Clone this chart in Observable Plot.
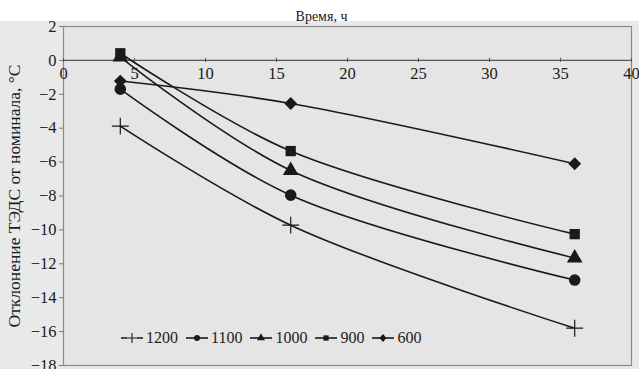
<!DOCTYPE html>
<html>
<head>
<meta charset="utf-8">
<script src="https://cdn.jsdelivr.net/npm/d3@7"></script>
<script src="https://cdn.jsdelivr.net/npm/@observablehq/plot@0.6"></script>
<style>
  html, body { margin: 0; padding: 0; background: #fff; }
  #wrap { position: relative; width: 639px; height: 369px; overflow: hidden; }
  #legend { position: absolute; left: 120px; top: 329px; display: flex; align-items: center;
            font-family: "Liberation Serif", "DejaVu Serif", serif; font-size: 16px; color: #222; }
  #legend .item { display: flex; align-items: center; margin-right: 7px; }
  #legend svg { margin-right: 2px; }
</style>
</head>
<body>
<div id="wrap"><div id="legend"></div></div>
<script>
// Data
const hours = [4, 16, 36];
const seriesNames = ["1200", "1100", "1000", "900", "600"];
const s1200 = [-3.88, -9.72, -15.8];
const s1100 = [-1.7, -7.95, -12.96];
const s1000 = [0.2, -6.49, -11.66];
const s900 = [0.42, -5.35, -10.25];
const s600 = [-1.22, -2.54, -6.1];
const seriesSymbols = ["plus", "circle", "triangle", "square", "diamond2"];
const xTicks = [0, 5, 10, 15, 20, 25, 30, 35, 40];
const yTicks = [2, 0, -2, -4, -6, -8, -10, -12, -14, -16, -18];
const xLabel = "Время, ч";
const yLabel = "Отклонение ТЭДС от номинала, °С";

const values = [s1200, s1100, s1000, s900, s600];
const data = [];
seriesNames.forEach((name, i) => {
  hours.forEach((h, j) => data.push({series: name, symbol: seriesSymbols[i], hour: h, value: values[i][j]}));
});
const fmt = d => d < 0 ? "\u2212" + (-d) : String(d);
const ink = "#1a1a1a";
const serif = "'Liberation Serif', 'DejaVu Serif', serif";

const chart = Plot.plot({
  width: 639,
  height: 369,
  marginTop: 26,
  marginLeft: 63,
  marginRight: 8,
  marginBottom: 4,
  style: {fontFamily: serif, fontSize: "16px", color: ink, background: "linear-gradient(#fff 0 21px, #e9e9e9 21px)", overflow: "visible"},
  x: {domain: [0, 40], axis: null},
  y: {domain: [-18, 2], axis: null},
  symbol: {domain: seriesNames, range: seriesSymbols},
  marks: [
    Plot.frame({fill: "#e5e5e5", stroke: "#8a8a8a", strokeWidth: 1.2}),
    Plot.ruleY([2], {stroke: "#8a8a8a", strokeWidth: 1.2}),
    Plot.ruleY([0], {stroke: "#555", strokeWidth: 1.2}),
    Plot.ruleX(xTicks, {y1: -0.12, y2: 0.12, stroke: "#555"}),
    Plot.text(xTicks, {x: d => d, y: 0, text: d => String(d), dy: 13, fontSize: 16.5, fill: ink}),
    Plot.axisY(yTicks, {tickFormat: fmt, tickSize: 4, tickPadding: 3, stroke: "#777", fontSize: 16.5, label: null}),
    Plot.text([yLabel], {frameAnchor: "left", textAnchor: "middle", rotate: -90, dx: -49, fontSize: 17.5, fill: ink}),
    Plot.text([xLabel], {frameAnchor: "top", dy: -15, dx: -26, fontSize: 14, fill: ink}),
    Plot.line(data, {x: "hour", y: "value", z: "series", curve: "catmull-rom", stroke: ink, strokeWidth: 1.6}),
    Plot.dot(data.filter(d => d.symbol !== "plus"), {x: "hour", y: "value", symbol: "series", fill: ink, stroke: "none", r: 5.8}),
    Plot.dot(data.filter(d => d.symbol === "plus"), {x: "hour", y: "value", symbol: "series", fill: "none", stroke: ink, strokeWidth: 1.2, r: 5.5})
  ]
});
document.getElementById("wrap").prepend(chart);

// Legend
const legend = d3.select("#legend");
seriesNames.forEach((name, i) => {
  const item = legend.append("div").attr("class", "item");
  const sw = item.append("svg").attr("width", 24).attr("height", 14);
  sw.append("line").attr("x1", 1).attr("x2", 23).attr("y1", 7).attr("y2", 7).attr("stroke", ink).attr("stroke-width", 1.6);
  const sym = seriesSymbols[i];
  if (sym === "plus") {
    sw.append("path").attr("d", "M12,2V12M7,7H17").attr("stroke", ink).attr("stroke-width", 1.1);
    sw.select("line").attr("stroke-dasharray", "6 10");
  } else if (sym === "diamond2") {
    sw.append("path").attr("d", "M12,3L15.5,7L12,11L8.5,7Z").attr("fill", ink);
  } else {
    const symType = {circle: d3.symbolCircle, triangle: d3.symbolTriangle, square: d3.symbolSquare}[sym];
    sw.append("path").attr("transform", "translate(12,7)").attr("d", d3.symbol(symType, 28)()).attr("fill", ink);
  }
  item.append("span").text(name);
});
</script>
</body>
</html>
